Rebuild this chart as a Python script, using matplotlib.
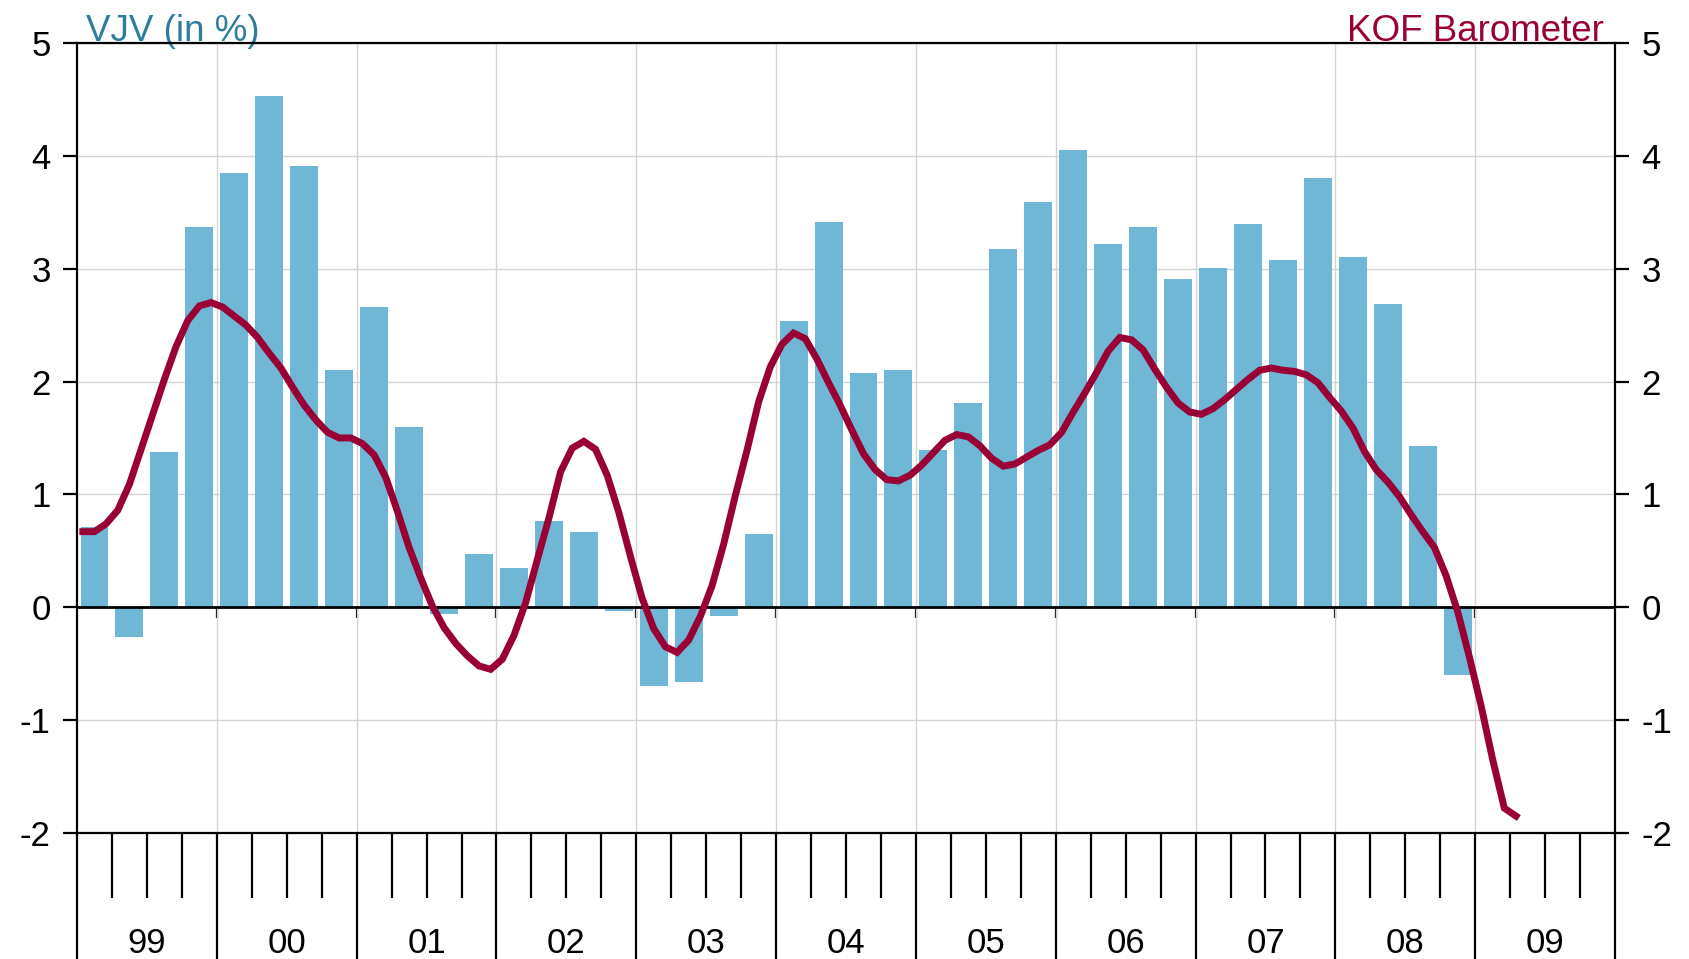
import matplotlib
matplotlib.use('Agg')
import matplotlib.pyplot as plt
import numpy as np
from matplotlib.ticker import FixedLocator, FixedFormatter, NullFormatter

plt.rcParams['font.family'] = ['Liberation Sans', 'DejaVu Sans']
plt.rcParams['axes.unicode_minus'] = False

years = ['99', '00', '01', '02', '03', '04', '05', '06', '07', '08', '09']

# VJV, quarterly, 1999 Q1 .. 2008 Q4 (in %)
vjv = [0.71, -0.26, 1.38, 3.37,
       3.85, 4.53, 3.91, 2.10,
       2.66, 1.60, -0.06, 0.47,
       0.35, 0.76, 0.67, -0.03,
       -0.70, -0.66, -0.08, 0.65,
       2.54, 3.41, 2.08, 2.10,
       1.39, 1.81, 3.17, 3.59,
       4.05, 3.22, 3.37, 2.91,
       3.01, 3.40, 3.08, 3.80,
       3.10, 2.69, 1.43, -0.60]

# KOF Barometer, monthly, Jan 1999 .. Apr 2009
kof = [0.67, 0.67, 0.74, 0.86, 1.09, 1.40, 1.71, 2.02, 2.31, 2.54, 2.67, 2.70,
       2.66, 2.58, 2.50, 2.39, 2.25, 2.12, 1.95, 1.79, 1.66, 1.55, 1.50, 1.50,
       1.45, 1.35, 1.15, 0.85, 0.53, 0.26, 0.01, -0.18, -0.32, -0.43, -0.52, -0.55,
       -0.46, -0.25, 0.04, 0.42, 0.79, 1.20, 1.41, 1.47, 1.40, 1.17, 0.84, 0.45,
       0.08, -0.19, -0.35, -0.40, -0.29, -0.08, 0.19, 0.56, 0.99, 1.39, 1.82, 2.13,
       2.33, 2.43, 2.38, 2.20, 1.99, 1.79, 1.57, 1.36, 1.22, 1.13, 1.12, 1.17,
       1.26, 1.37, 1.48, 1.53, 1.51, 1.43, 1.32, 1.25, 1.27, 1.33, 1.39, 1.44,
       1.55, 1.73, 1.90, 2.08, 2.27, 2.39, 2.37, 2.28, 2.11, 1.95, 1.81, 1.73,
       1.71, 1.76, 1.84, 1.93, 2.02, 2.10, 2.12, 2.10, 2.09, 2.06, 1.99, 1.86,
       1.74, 1.59, 1.38, 1.22, 1.11, 0.98, 0.82, 0.67, 0.53, 0.28, -0.04, -0.44,
       -0.87, -1.35, -1.78, -1.85]

bar_color = '#6fb7d5'
line_color = '#990033'
title_blue = '#2f7d9c'

fig = plt.figure(figsize=(16.89, 9.59), dpi=100)
ax = fig.add_axes([0.0456, 0.1314, 0.9106, 0.8238])

nq = len(years) * 4
xq = np.arange(len(vjv)) + 0.5
xm = (np.arange(len(kof)) + 0.5) / 3.0

ax.bar(xq, vjv, width=0.8, color=bar_color, zorder=2)
ax.axhline(0, color='black', lw=2, zorder=3)
ax.plot(xm, kof, color=line_color, lw=5, zorder=4, solid_joinstyle='miter')

ax.set_xlim(0, nq)
ax.set_ylim(-2, 5)

# grid
for yv in range(-2, 6):
    ax.axhline(yv, color='#d4d4d4', lw=1, zorder=1)
for xv in range(4, nq, 4):
    ax.axvline(xv, color='#d4d4d4', lw=1, zorder=1)

# x axis: year ticks long, quarter ticks shorter, year labels under mid-year tick
ax.xaxis.set_major_locator(FixedLocator(np.arange(0, nq + 1, 4)))
ax.xaxis.set_major_formatter(NullFormatter())
minor_pos = [q for q in range(1, nq) if q % 4 != 0]
minor_lab = [years[q // 4] if q % 4 == 2 else '' for q in minor_pos]
ax.xaxis.set_minor_locator(FixedLocator(minor_pos))
ax.xaxis.set_minor_formatter(FixedFormatter(minor_lab))
ax.tick_params(axis='x', which='major', length=92, width=1.6, direction='out')
ax.tick_params(axis='x', which='minor', length=47, width=1.6, direction='out',
               labelsize=25, pad=21)

# y axis both sides
ax.set_yticks(range(-2, 6))
ax.tick_params(axis='y', length=10, width=1.6, labelsize=25, pad=9,
               left=True, right=True, labelleft=True, labelright=True)

for s in ax.spines.values():
    s.set_linewidth(1.6)
    s.set_zorder(5)

# small year ticks under the zero line
sec = ax.secondary_xaxis(2 / 7)
sec.set_xticks(range(4, nq, 4))
sec.xaxis.set_major_formatter(NullFormatter())
sec.tick_params(length=8, width=1.6, direction='out')
sec.spines['bottom'].set_visible(False)

ax.text(0.006, 1.003, 'VJV (in %)', transform=ax.transAxes, color=title_blue,
        fontsize=26.5, ha='left', va='baseline')
ax.text(0.993, 1.003, 'KOF Barometer', transform=ax.transAxes, color=line_color,
        fontsize=26.5, ha='right', va='baseline')

fig.savefig('out.png', dpi=100)
